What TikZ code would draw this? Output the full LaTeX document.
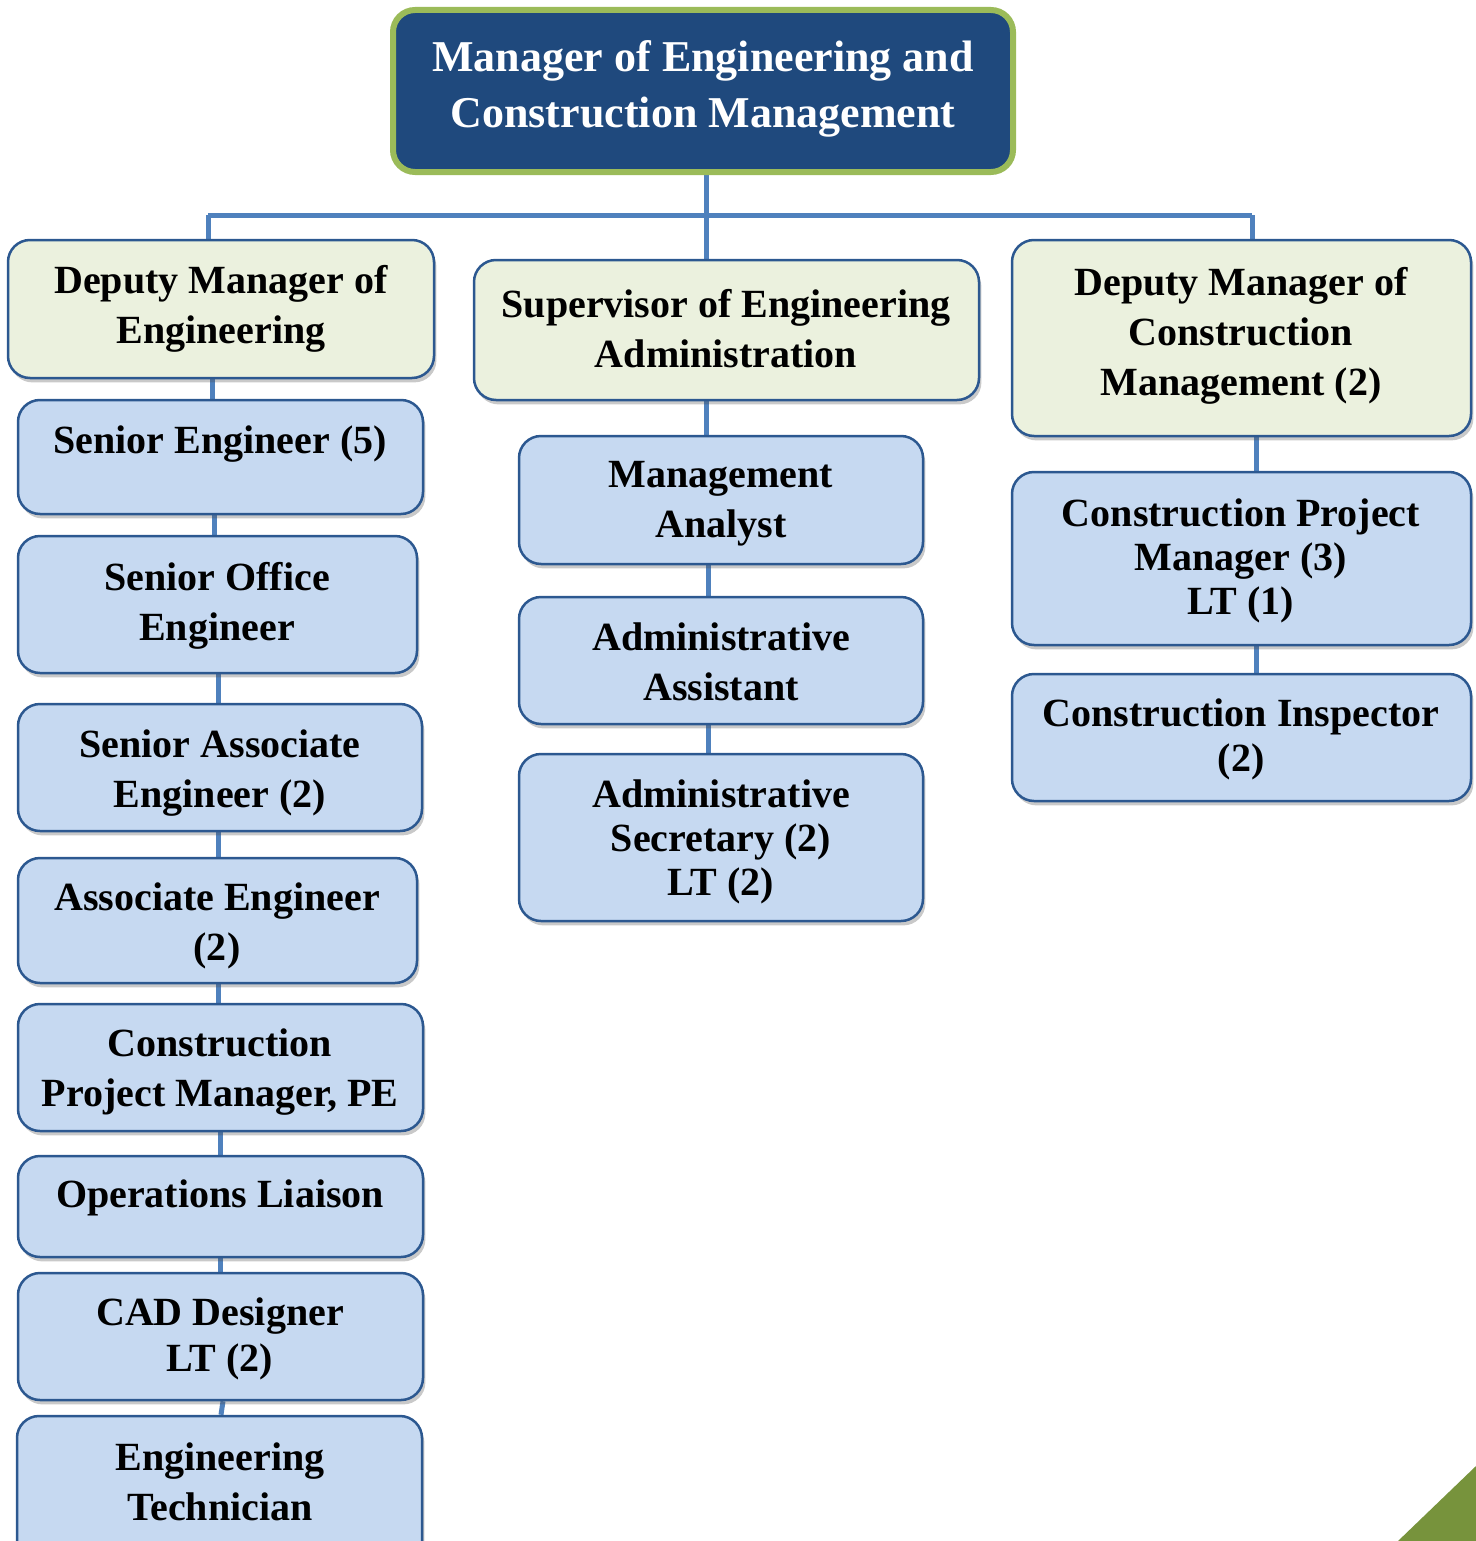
\documentclass[tikz,border=0pt]{standalone}
\usepackage{fontspec}
\setmainfont{Liberation Serif}
\usetikzlibrary{shadows}
\definecolor{topfill}{HTML}{1F497D}
\definecolor{topedge}{HTML}{9BBB59}
\definecolor{ln}{HTML}{4F81BD}
\definecolor{grn}{HTML}{EBF1DE}
\definecolor{blu}{HTML}{C6D9F1}
\definecolor{bdr}{HTML}{2C5890}
\definecolor{tri}{HTML}{77933C}
\pgfdeclarelayer{bg}
\pgfsetlayers{bg,main}
\newcommand\orgnode[6]{\node[#1, minimum width={(#5-#3)*0.5pt}, minimum height={(#6-#4)*0.5pt}] (#2) at ({(#3+#5)/2},{(#4+#6)/2}) {};}
\tikzset{
  greenbox/.style={draw=bdr, fill=grn, line width=1.25pt, rounded corners=11pt, inner sep=0pt,
    drop shadow={shadow xshift=1.2pt, shadow yshift=-2.2pt, opacity=0.3, fill=black!70}},
  bluebox/.style={greenbox, fill=blu},
  topbox/.style={draw=topedge, fill=topfill, line width=3pt, rounded corners=11pt, inner sep=0pt},
  lbl/.style={align=center, inner sep=0pt, text=black, font=\bfseries\fontsize{20}{25}\selectfont},
  conn/.style={draw=ln, line width=2.5pt},
}
\begin{document}
\begin{tikzpicture}[x=0.5pt, y=-0.5pt]
\useasboundingbox (0,0) rectangle (1476,1541);
% top
\orgnode{topbox}{top}{393}{10}{1013}{172}
\node[lbl, text=white, font=\bfseries\fontsize{22}{28}\selectfont] (top-t) at (703,89) {Manager of Engineering and\\Construction Management};
% left column
\orgnode{greenbox}{deng}{8}{240}{434}{378}
\node[lbl] (deng-t) at (221,309) {Deputy Manager of\\Engineering};
\orgnode{bluebox}{seng}{18}{400}{423}{514}
\node[lbl] (seng-t) at (220,444) {Senior Engineer (5)};
\orgnode{bluebox}{soe}{18}{536}{417}{673}
\node[lbl] (soe-t) at (217,606) {Senior Office\\Engineer};
\orgnode{bluebox}{sae}{18}{704}{422}{831}
\node[lbl] (sae-t) at (220,773) {Senior Associate\\Engineer (2)};
\orgnode{bluebox}{ae}{18}{858}{417}{983}
\node[lbl] (ae-t) at (217,926) {Associate Engineer\\(2)};
\orgnode{bluebox}{cpm}{18}{1004}{423}{1131}
\node[lbl] (cpm-t) at (220,1072) {Construction\\Project Manager, PE};
\orgnode{bluebox}{ol}{18}{1156}{423}{1257}
\node[lbl] (ol-t) at (220,1198) {Operations Liaison};
\orgnode{bluebox}{cad}{18}{1273}{423}{1400}
\node[lbl, font=\bfseries\fontsize{20}{23}\selectfont] (cad-t) at (220,1339) {CAD Designer\\LT (2)};
\orgnode{bluebox}{et}{17}{1416}{422}{1590}
\node[lbl] (et-t) at (220,1482) {Engineering\\Technician};
% center column
\orgnode{greenbox}{sup}{474}{260}{979}{400}
\node[lbl] (sup-t) at (726,329) {Supervisor of Engineering\\Administration};
\orgnode{bluebox}{ma}{519}{436}{923}{564}
\node[lbl] (ma-t) at (721,504) {Management\\Analyst};
\orgnode{bluebox}{aa}{519}{597}{923}{724}
\node[lbl] (aa-t) at (721,662) {Administrative\\Assistant};
\orgnode{bluebox}{as}{519}{754}{923}{921}
\node[lbl, font=\bfseries\fontsize{20}{22}\selectfont] (as-t) at (721,842) {Administrative\\Secretary (2)\\LT (2)};
% right column
\orgnode{greenbox}{dcm}{1012}{240}{1471}{436}
\node[lbl] (dcm-t) at (1241,336) {Deputy Manager of\\Construction\\Management (2)};
\orgnode{bluebox}{cpm3}{1012}{472}{1471}{645}
\node[lbl, font=\bfseries\fontsize{20}{22}\selectfont] (cpm3-t) at (1241,561) {Construction Project\\Manager (3)\\LT (1)};
\orgnode{bluebox}{ci}{1012}{674}{1471}{801}
\node[lbl, font=\bfseries\fontsize{20}{22.5}\selectfont] (ci-t) at (1241,739) {Construction Inspector\\(2)};
% connector columns
\coordinate (busL) at (208,215);
\coordinate (busR) at (1252,215);
\coordinate (busC) at (706,215);
\coordinate (xa) at (212,0);
\coordinate (xb) at (214,0);
\coordinate (xc) at (218,0);
\coordinate (xd) at (220,0);
\coordinate (xe1) at (223,0);
\coordinate (xe2) at (221,0);
\coordinate (xm) at (708,0);
\coordinate (xr) at (1256,0);
\begin{pgfonlayer}{bg}
\draw[conn] (busL) -- (busR);
\draw[conn] (busC |- top.south) -- (busC |- sup.north);
\draw[conn] (busL) -- (busL |- deng.north);
\draw[conn] (busR) -- (busR |- dcm.north);
\draw[conn] (xa |- deng.south) -- (xa |- seng.north);
\draw[conn] (xb |- seng.south) -- (xb |- soe.north);
\draw[conn] (xc |- soe.south) -- (xc |- sae.north);
\draw[conn] (xc |- sae.south) -- (xc |- ae.north);
\draw[conn] (xc |- ae.south) -- (xc |- cpm.north);
\draw[conn] (xd |- cpm.south) -- (xd |- ol.north);
\draw[conn] (xd |- ol.south) -- (xd |- cad.north);
\draw[conn] (xe1 |- cad.south) -- (xe2 |- et.north);
\draw[conn] (busC |- sup.south) -- (busC |- ma.north);
\draw[conn] (xm |- ma.south) -- (xm |- aa.north);
\draw[conn] (xm |- aa.south) -- (xm |- as.north);
\draw[conn] (xr |- dcm.south) -- (xr |- cpm3.north);
\draw[conn] (xr |- cpm3.south) -- (xr |- ci.north);
\end{pgfonlayer}
% corner triangle
\fill[tri] (1398,1541) -- (1476,1541) -- (1476,1466) -- cycle;
\end{tikzpicture}
\end{document}
